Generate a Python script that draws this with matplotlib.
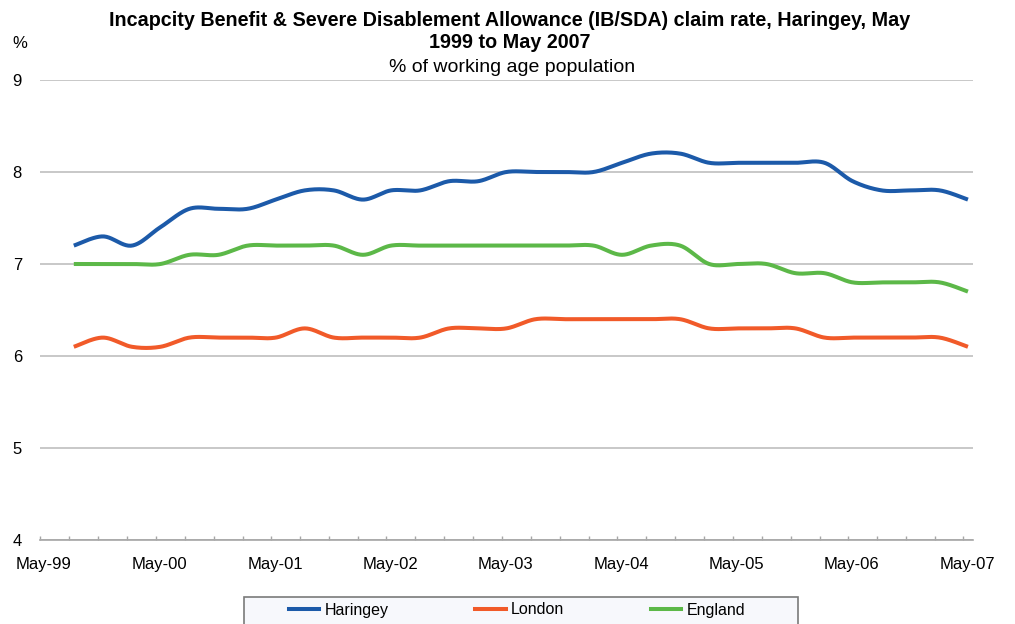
import numpy as np
import pandas as pd
import matplotlib
matplotlib.use('Agg')
import matplotlib.pyplot as plt
import matplotlib.dates as mdates
from matplotlib.patches import Rectangle
from matplotlib.lines import Line2D
from matplotlib.transforms import ScaledTranslation

plt.rcParams['font.family'] = ['Liberation Sans', 'DejaVu Sans']

# quarterly claim rates (% of working age population), Aug-99 .. May-07
dates = pd.date_range('1999-08-01', periods=32, freq='3MS') + pd.Timedelta(days=15)
haringey = [7.2, 7.3, 7.2, 7.4, 7.6, 7.6, 7.6, 7.7, 7.8, 7.8, 7.7, 7.8, 7.8, 7.9, 7.9, 8.0,
            8.0, 8.0, 8.0, 8.1, 8.2, 8.2, 8.1, 8.1, 8.1, 8.1, 8.1, 7.9, 7.8, 7.8, 7.8, 7.7]
london = [6.1, 6.2, 6.1, 6.1, 6.2, 6.2, 6.2, 6.2, 6.3, 6.2, 6.2, 6.2, 6.2, 6.3, 6.3, 6.3,
          6.4, 6.4, 6.4, 6.4, 6.4, 6.4, 6.3, 6.3, 6.3, 6.3, 6.2, 6.2, 6.2, 6.2, 6.2, 6.1]
england = [7.0, 7.0, 7.0, 7.0, 7.1, 7.1, 7.2, 7.2, 7.2, 7.2, 7.1, 7.2, 7.2, 7.2, 7.2, 7.2,
           7.2, 7.2, 7.2, 7.1, 7.2, 7.2, 7.0, 7.0, 7.0, 6.9, 6.9, 6.8, 6.8, 6.8, 6.8, 6.7]

series = [('Haringey', haringey, '#1c5aa9'),
          ('London', london, '#f15a29'),
          ('England', england, '#5cb848')]


def smooth(x, y, steps=24):
    # catmull-rom style bezier, same idea as the spreadsheet "smoothed line"
    x = np.asarray(x, float)
    y = np.asarray(y, float)
    n = len(x)
    xs, ys = [], []
    t = np.linspace(0, 1, steps, endpoint=False)
    for i in range(n - 1):
        p0 = i - 1 if i > 0 else i
        p3 = i + 2 if i + 2 < n else i + 1
        c1x = x[i] + (x[i + 1] - x[p0]) / 6
        c1y = y[i] + (y[i + 1] - y[p0]) / 6
        c2x = x[i + 1] - (x[p3] - x[i]) / 6
        c2y = y[i + 1] - (y[p3] - y[i]) / 6
        a = (1 - t) ** 3
        b = 3 * (1 - t) ** 2 * t
        c = 3 * (1 - t) * t ** 2
        d = t ** 3
        xs.append(a * x[i] + b * c1x + c * c2x + d * x[i + 1])
        ys.append(a * y[i] + b * c1y + c * c2y + d * y[i + 1])
    xs.append([x[-1]])
    ys.append([y[-1]])
    return np.concatenate(xs), np.concatenate(ys)


fig = plt.figure(figsize=(10.15, 6.24), dpi=100)
ax = fig.add_axes([40 / 1015, 1 - 540 / 624, 933 / 1015, 460 / 624])

xnum = mdates.date2num(dates)
for name, vals, col in series:
    sx, sy = smooth(xnum, vals)
    ax.plot(sx, sy, color=col, lw=2.9, solid_capstyle='butt', label=name, zorder=3)

ax.set_ylim(4, 9)
ax.set_yticks([4, 5, 6, 7, 8, 9])
ax.set_xlim(mdates.date2num(pd.Timestamp('1999-05-01')), mdates.date2num(pd.Timestamp('2007-06-01')))
ax.xaxis.set_major_locator(mdates.MonthLocator(bymonth=5))
ax.xaxis.set_major_formatter(mdates.DateFormatter('%b-%y'))
ax.xaxis.set_minor_locator(mdates.MonthLocator(bymonth=[2, 8, 11]))

ax.grid(axis='y', color='#c4c4c4', lw=1.3)
ax.set_axisbelow(True)
for s in ['left', 'right', 'top']:
    ax.spines[s].set_visible(False)
ax.spines['bottom'].set_color('#a6a6a6')
ax.spines['bottom'].set_linewidth(1.2)
ax.tick_params(axis='y', length=0, pad=13, labelsize=12)
ax.tick_params(axis='x', which='both', direction='in', length=3, width=1, color='#a6a6a6',
               pad=12, labelsize=12)
for lab in ax.get_xticklabels():
    lab.set_transform(lab.get_transform() + ScaledTranslation(4 / 100, 0, fig.dpi_scale_trans))

fig.text(510 / 1015, 1 - 31 / 624,
         'Incapcity Benefit & Severe Disablement Allowance (IB/SDA) claim rate, Haringey, May\n1999 to May 2007',
         ha='center', va='center', fontsize=14.2, fontweight='bold', linespacing=1.2)
fig.text(512 / 1015, 1 - 68 / 624, '% of working age population', ha='center', va='center', fontsize=14)
fig.text(20 / 1015, 1 - 43 / 624, '%', ha='center', va='center', fontsize=12)

# legend box runs off the bottom edge
fig.patches.append(Rectangle((244 / 1015, -0.05), 554 / 1015, 0.05 + 1 - 597 / 624,
                             transform=fig.transFigure, facecolor='#f7f8fc',
                             edgecolor='#7a7a7a', lw=1.2, zorder=0))
handles = [Line2D([], [], color=col, lw=2.9) for _, _, col in series]
fig.legend(handles, [n for n, _, _ in series], ncol=3, frameon=False,
           loc='center left', bbox_to_anchor=(289 / 1015, 1 - 610 / 624),
           borderpad=0, borderaxespad=0, fontsize=11.5,
           handlelength=1.9, handletextpad=0.35, columnspacing=5.4)

fig.savefig('out.png', dpi=100)
